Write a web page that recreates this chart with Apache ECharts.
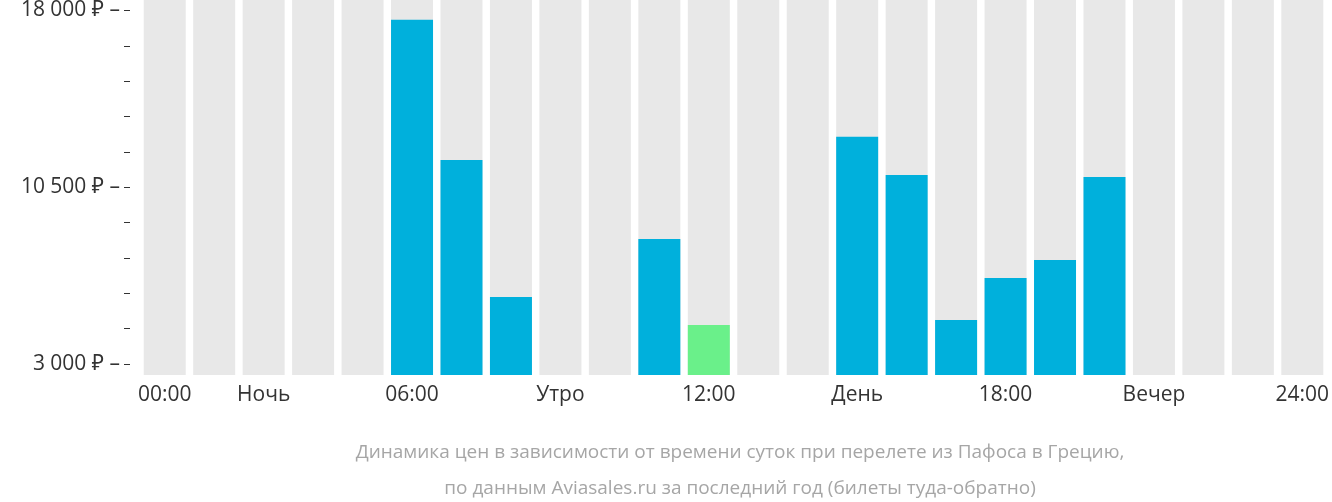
<!DOCTYPE html>
<html>
<head>
<meta charset="utf-8">
<script src="https://cdn.jsdelivr.net/npm/echarts@6/dist/echarts.min.js"></script>
<style>
html, body { margin: 0; padding: 0; background: #fff; }
#chart { width: 1332px; height: 502px; }
</style>
</head>
<body>
<div id="chart"></div>
<script>
// slots of the day, 24 hours
var hours = ['00:00', '', 'Ночь', '', '', '06:00', '', '', 'Утро', '', '', '12:00',
    '', '', 'День', '', '', '18:00', '', '', 'Вечер', '', '', '24:00'];
var prices = [null, null, null, null, null, 17500, 11600, 5820, null, null, 8270, 4640,
    null, null, 12570, 10960, 4850, 6620, 7380, 10880, null, null, null, null];
var cheapestIndex = 11;
var yTicks = [3000, 10500, 18000];

var Y_MIN = 2536;
var Y_MAX = 18337;

var fmtRub = function (v) {
    return String(v).replace(/\B(?=(\d{3})+(?!\d))/g, ' ') + ' ₽';
};

var chart = echarts.init(document.getElementById('chart'));
var font = '"Open Sans", "Noto Sans", sans-serif';

chart.setOption({
    animation: false,
    textStyle: {fontFamily: font},
    title: {
        text: 'Динамика цен в зависимости от времени суток при перелете из Пафоса в Грецию,\nпо данным Aviasales.ru за последний год (билеты туда-обратно)',
        left: 735, top: 430, textAlign: 'center',
        textStyle: {color: '#a6a6a6', fontSize: 19, fontWeight: 'normal', lineHeight: 36, fontFamily: font}
    },
    grid: [
        {left: 140, right: 0, top: 0, height: 375},
        {left: 130, right: 0, top: 8, height: 356}
    ],
    xAxis: [
        {
            type: 'category', gridIndex: 0, data: hours,
            axisLine: {show: false}, axisTick: {show: false},
            axisLabel: {interval: 0, color: '#333', fontSize: 21, margin: 10, fontFamily: font}
        },
        {type: 'category', gridIndex: 1, data: hours, show: false}
    ],
    yAxis: [
        {type: 'value', gridIndex: 0, min: Y_MIN, max: Y_MAX, show: false},
        {
            type: 'value', gridIndex: 1, min: 3000, max: 18000, interval: 1500,
            splitLine: {show: false}, axisLine: {show: false},
            axisTick: {show: true, length: 6, lineStyle: {color: '#333'}},
            axisLabel: {
                color: '#333', fontSize: 21, margin: 10, fontFamily: font,
                formatter: function (v) {
                    return yTicks.indexOf(v) >= 0 ? fmtRub(v) + ' –' : '';
                }
            }
        }
    ],
    series: [
        {
            type: 'bar', xAxisIndex: 0, yAxisIndex: 0, barWidth: 42,
            itemStyle: {color: '#e8e8e8'}, silent: true,
            data: hours.map(function () { return Y_MAX; })
        },
        {
            type: 'bar', xAxisIndex: 0, yAxisIndex: 0, barWidth: 42, barGap: '-100%',
            data: prices.map(function (v, i) {
                return {value: v, itemStyle: {color: i === cheapestIndex ? '#6af08a' : '#00b0dc'}};
            })
        }
    ]
});
</script>
</body>
</html>
